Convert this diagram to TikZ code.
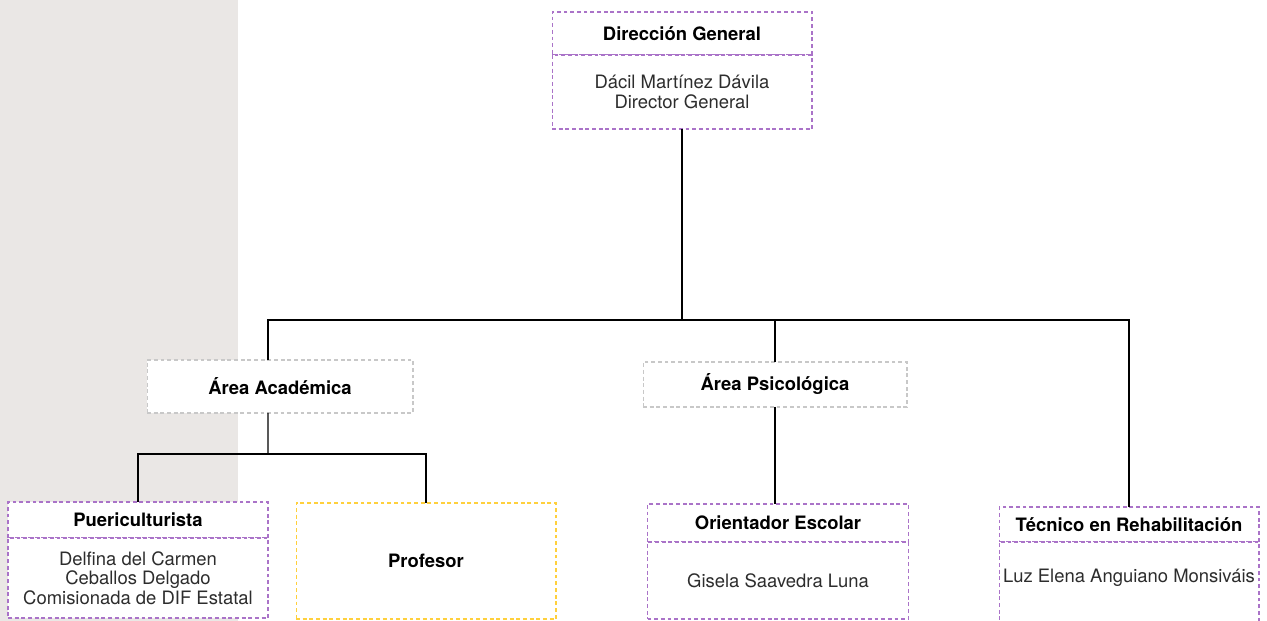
\documentclass[tikz,border=0pt]{standalone}
\usepackage{fontspec}
\setmainfont{TeX Gyre Heros}
\usepackage{tikz}
\usetikzlibrary{positioning}

\definecolor{lila}{RGB}{170,115,200}
\definecolor{grisarea}{RGB}{200,200,200}
\definecolor{amarillo}{RGB}{255,208,60}
\definecolor{papel}{RGB}{234,231,229}
\definecolor{texto}{RGB}{45,45,45}

\begin{document}
\begin{tikzpicture}[x=0.02cm,y=-0.02cm,node distance=0pt,semithick]
\tikzstyle{caja} = [rectangle,fill=white,outer sep=0pt,inner sep=2pt,align=center,
    font=\fontsize{10.5}{11}\selectfont,line width=0.6pt,dash pattern=on 2.2pt off 1.6pt]
\tikzstyle{titulo} = [caja,draw=lila,font=\fontsize{10.5}{11}\selectfont\bfseries]
\tikzstyle{cuerpo} = [caja,draw=lila,text=texto]
\tikzstyle{area} = [caja,draw=grisarea,font=\fontsize{10.5}{11}\selectfont\bfseries]
    \useasboundingbox (0,0) rectangle (1267,621);
    \fill[papel] (0,0) rectangle (238,621);

    % direccion
    \node[titulo,minimum width=5.2cm,minimum height=0.86cm,anchor=north] (dgt) at (682,12) {Dirección General};
    \node[cuerpo,minimum width=5.2cm,minimum height=1.48cm,below=of dgt] (dgb) {Dácil Martínez Dávila\\Director General};

    % areas
    \node[area,minimum width=5.32cm,minimum height=1.06cm,anchor=north] (aca) at (280,360) {Área Académica};
    \node[area,minimum width=5.28cm,minimum height=0.9cm,anchor=north] (psi) at (775,362) {Área Psicológica};

    % puestos
    \node[titulo,minimum width=5.2cm,minimum height=0.72cm,anchor=north] (puet) at (138,502) {Puericulturista};
    \node[cuerpo,minimum width=5.2cm,minimum height=1.6cm,below=of puet] (pueb) {Delfina del Carmen\\Ceballos Delgado\\Comisionada de DIF Estatal};
    \node[area,draw=amarillo,minimum width=5.2cm,minimum height=2.32cm,anchor=north] (prof) at (426,503) {Profesor};
    \node[titulo,minimum width=5.22cm,minimum height=0.76cm,anchor=north] (orit) at (778,504) {Orientador Escolar};
    \node[cuerpo,minimum width=5.22cm,minimum height=1.54cm,below=of orit] (orib) {Gisela Saavedra Luna};
    \node[titulo,minimum width=5.2cm,minimum height=0.7cm,anchor=north] (tect) at (1129,507) {Técnico en Rehabilitación};
    \node[cuerpo,minimum width=5.2cm,minimum height=2cm,below=of tect] (tecb) {};
    \node[font=\fontsize{10.5}{11}\selectfont,text=texto] (tecn) at (1129,578) {Luz Elena Anguiano Monsiváis};

    \coordinate (jdg) at (682,320);
    \coordinate (jaca) at (268,454);

    \tikzset{linea/.style={black,line width=0.6pt}}
    \draw[linea] (dgb.south) -- (jdg);
    \draw[linea] ([xshift=-0.24cm]aca.north) |- (jdg) -| (tect.north);
    \draw[linea] (psi.north) -- (psi.north |- jdg);
    \draw[linea] (psi.south) -- (psi.south |- orit.north);
    \draw[linea] ([xshift=-0.24cm]aca.south) -- (jaca);
    \draw[linea] (puet.north) |- (jaca) -| (prof.north);
\end{tikzpicture}
\end{document}
